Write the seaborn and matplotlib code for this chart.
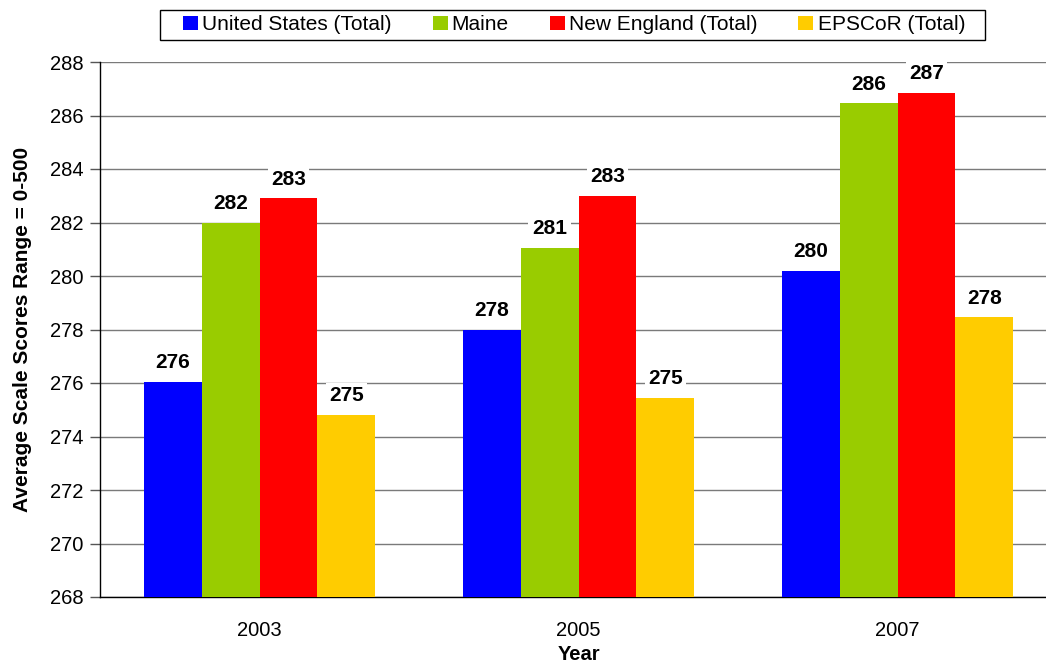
import pandas as pd
import matplotlib.pyplot as plt
import matplotlib.patches as mpatches
import seaborn as sns

# values
years = ["2003", "2005", "2007"]
regions = ["United States (Total)", "Maine", "New England (Total)", "EPSCoR (Total)"]
us_total = [276.05, 278.0, 280.2]
maine = [282.0, 281.05, 286.45]
new_england = [282.9, 283.0, 286.85]
epscor = [274.8, 275.45, 278.45]
colors = ["#0000FF", "#99CC00", "#FF0000", "#FFCC00"]

rows = []
for name, vals in zip(regions, [us_total, maine, new_england, epscor]):
    for yr, v in zip(years, vals):
        rows.append({"Year": yr, "Region": name, "Score": v})
df = pd.DataFrame(rows)

sns.set_style("white")
plt.rcParams["font.family"] = ["Liberation Sans", "DejaVu Sans"]
plt.rcParams["text.color"] = "black"
plt.rcParams["axes.labelcolor"] = "black"

fig = plt.figure(figsize=(10.46, 6.69), dpi=100)
# plot area runs past the right edge, as in the (cropped) reference
ax = fig.add_axes([100 / 1046, 1 - 597 / 669, 957 / 1046, 535 / 669])

sns.barplot(data=df, x="Year", y="Score", hue="Region", palette=colors,
            hue_order=regions, order=years, width=0.727, saturation=1,
            edgecolor="none", linewidth=0, ax=ax, zorder=3)

for cont in ax.containers:
    ax.bar_label(cont, fmt="%.0f", padding=7, fontsize=15, fontweight="bold",
                 color="black",
                 bbox=dict(facecolor="white", edgecolor="none", pad=2.5), zorder=4)

ax.set_ylim(268, 288)
ax.set_yticks(range(268, 289, 2))
ax.set_xlim(-0.5, 2.5)
ax.yaxis.grid(True, color="#7a7a7a", linewidth=1, zorder=0)
ax.set_axisbelow(True)

for s in ["top", "right"]:
    ax.spines[s].set_visible(False)
for s in ["left", "bottom"]:
    ax.spines[s].set_color("black")
    ax.spines[s].set_linewidth(1)

ax.set_xticks([-0.5, 0.5, 1.5, 2.5], minor=True)
ax.tick_params(axis="x", which="major", length=0, labelsize=14.5, pad=17,
               labelcolor="black")
ax.tick_params(axis="x", which="minor", length=7, color="#555555", width=1)
ax.tick_params(axis="y", length=7, color="#555555", width=1, labelsize=14.5, pad=5,
               left=True, labelcolor="black")

ax.set_xlabel("Year", fontsize=14.5, fontweight="bold", labelpad=4)
ax.set_ylabel("Average Scale Scores Range = 0-500", fontsize=15, fontweight="bold",
              labelpad=13)

# legend: entries spread inside a plain black box at the top
handles, labels = ax.get_legend_handles_labels()
ax.legend(handles, labels, loc="center",
          bbox_to_anchor=(183 / 1046, 1 - 40 / 669, (965 - 183) / 1046, 30 / 669),
          bbox_transform=fig.transFigure, mode="expand", ncol=4, frameon=False,
          fontsize=15, handlelength=0.72, handleheight=0.63, handletextpad=0.2,
          borderpad=0, borderaxespad=0)
fig.patches.append(mpatches.Rectangle((160 / 1046, 1 - 40 / 669), 825 / 1046, 30 / 669,
                                      transform=fig.transFigure, fill=False,
                                      edgecolor="black", linewidth=1))

fig.savefig("out.png", dpi=100)
